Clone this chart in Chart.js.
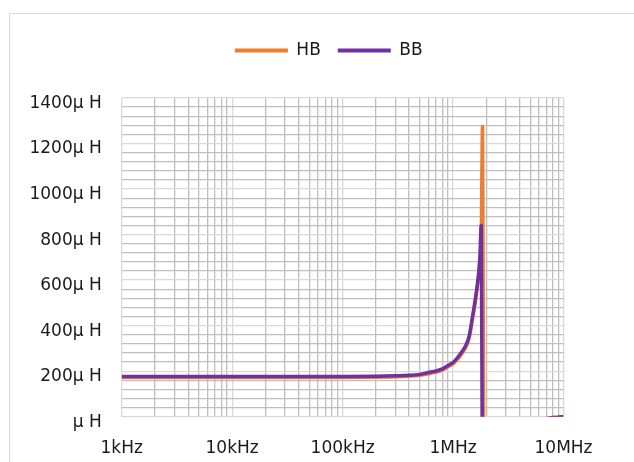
<!DOCTYPE html>
<html>
<head>
<meta charset="utf-8">
<script src="https://cdn.jsdelivr.net/npm/chart.js@4/dist/chart.umd.min.js"></script>
<style>
  body { margin: 0; background: #fff; }
  #wrap { width: 634px; height: 462px; }
</style>
</head>
<body>
<div id="wrap"><canvas id="chart" width="634" height="462"></canvas></div>
<script>
// frequency points in Hz
const freqs = [1e3, 2e3, 5e3, 1e4, 2e4, 5e4, 1e5, 2e5, 3e5, 4e5, 5e5, 6e5, 7e5, 8e5, 9e5,
  1e6, 1.1e6, 1.2e6, 1.3e6, 1.4e6, 1.5e6, 1.6e6, 1.7e6, 1.75e6, 1.8e6, 1.85e6, 1.9e6,
  2e6, 2.2e6, 2.5e6, 3e6, 4e6, 5e6, 6e6, 7e6, 8e6, 9e6, 1e7];

// inductance in µH
const hbValues = [172, 172, 172, 172, 172, 172, 172, 173, 175, 178, 182, 189, 196, 205, 219,
  232, 253, 277, 304, 345, 428, 512, 612, 690, 800, 1275, -300,
  -420, -260, -160, -85, -38, -21, -14, -9, -4, -2, -1];
const bbValues = [177, 177, 177, 177, 177, 177, 177, 178, 180, 182, 186, 194, 201, 210, 225,
  238, 260, 285, 312, 355, 440, 525, 625, 700, 840, -400, -450,
  -400, -250, -150, -80, -35, -20, -13, -8, -4, -2, -1];

const seriesNames = ['HB', 'BB'];
const seriesColors = ['#ED7D31', '#7030A0'];

const xTickLabels = { 1000: '1kHz', 10000: '10kHz', 100000: '100kHz', 1000000: '1MHz', 10000000: '10MHz' };

const isDecade = v => Math.abs(Math.log10(v) - Math.round(Math.log10(v))) < 1e-9;

Chart.defaults.font.family = 'DejaVu Sans';
Chart.defaults.font.size = 17;
Chart.defaults.color = '#1a1a1a';

// white background and outer chart border
const frame = {
  id: 'frame',
  beforeDraw(chart) {
    const ctx = chart.ctx;
    ctx.save();
    ctx.fillStyle = '#fff';
    ctx.fillRect(0, 0, chart.width, chart.height);
    ctx.strokeStyle = '#d9d9d9';
    ctx.lineWidth = 1;
    ctx.strokeRect(9.5, 13.5, 700, 600);
    ctx.restore();
  }
};

// move legend to where Excel puts it
const legendShift = {
  id: 'legendShift',
  afterLayout(chart) {
    const lg = chart.legend;
    lg.left += 42; lg.right += 42;
    lg.top -= 29; lg.bottom -= 29;
  }
};

const series = [hbValues, bbValues];

new Chart(document.getElementById('chart'), {
  type: 'line',
  data: {
    datasets: series.map((vals, i) => ({
      label: seriesNames[i],
      data: freqs.map((f, j) => ({ x: f, y: vals[j] })),
      borderColor: seriesColors[i],
      backgroundColor: seriesColors[i],
      borderWidth: 3.5,
      pointRadius: 0,
      cubicInterpolationMode: 'monotone',
      fill: false,
      borderJoinStyle: 'round',
      order: i === 0 ? 1 : 0
    }))
  },
  options: {
    responsive: false,
    animation: false,
    layout: { padding: { left: 10, right: 70.5, top: 54, bottom: 5 } },
    plugins: {
      tooltip: { enabled: false },
      legend: {
        position: 'top',
        labels: {
          boxWidth: 53,
          boxHeight: 4,
          padding: 17,
          sort: (a, b) => a.datasetIndex - b.datasetIndex,
          generateLabels: chart => Chart.defaults.plugins.legend.labels.generateLabels(chart)
            .map(l => ({ ...l, fillStyle: l.strokeStyle, lineWidth: 0 }))
        }
      }
    },
    scales: {
      x: {
        type: 'logarithmic',
        min: 1e3,
        max: 1e7,
        border: { display: false },
        grid: {
          drawTicks: false,
          lineWidth: 1.3,
          color: c => (c.tick && isDecade(c.tick.value)) ? '#d9d9d9' : '#bfbfbf'
        },
        afterBuildTicks: axis => {
          const t = [];
          for (let e = 3; e < 7; e++) {
            for (let m = 1; m < 10; m++) t.push({ value: m * Math.pow(10, e) });
          }
          t.push({ value: 1e7 });
          axis.ticks = t;
        },
        afterFit: axis => { axis.height = 40.3; },
        ticks: {
          autoSkip: false,
          maxRotation: 0,
          padding: 22,
          callback: v => xTickLabels[v] || ''
        }
      },
      y: {
        min: 0,
        max: 1400,
        border: { display: false },
        grid: {
          drawTicks: false,
          lineWidth: 1.3,
          color: c => (c.tick && c.tick.value % 200 === 0) ? '#d9d9d9' : '#bfbfbf'
        },
        afterFit: axis => { axis.width = 111.7; },
        ticks: {
          stepSize: 40,
          autoSkip: false,
          padding: 20,
          // empty first line nudges the label a few px below its gridline, like Excel
          font: { lineHeight: '11px' },
          callback: v => v % 200 === 0 ? ['', v === 0 ? 'µ H' : v + 'µ H'] : ''
        }
      }
    }
  },
  plugins: [frame, legendShift]
});
</script>
</body>
</html>
